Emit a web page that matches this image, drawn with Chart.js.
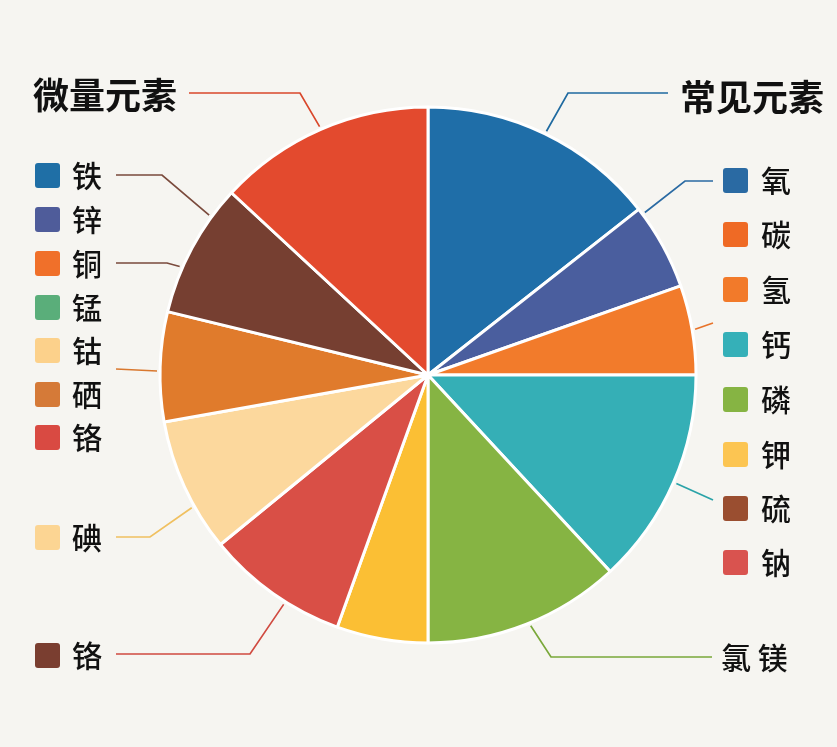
<!DOCTYPE html>
<html>
<head>
<meta charset="utf-8">
<script src="https://cdn.jsdelivr.net/npm/chart.js@4.4.1/dist/chart.umd.min.js"></script>
<style>
  html, body { margin: 0; padding: 0; background: #f6f5f1; }
  #wrap { position: relative; width: 837px; height: 747px; overflow: hidden; background: #f6f5f1; }
  canvas { position: absolute; left: 0; top: 0; }
  .t { position: absolute; font-family: "Noto Sans CJK SC", "Noto Sans", sans-serif; color: #111; white-space: nowrap; }
  .title { font-size: 36px; font-weight: 700; height: 44px; line-height: 44px; }
  .item { font-size: 30px; font-weight: 500; height: 36px; line-height: 36px; }
  .sw { position: absolute; width: 25px; height: 25px; border-radius: 3px; }
</style>
</head>
<body>
<div id="wrap">
  <canvas id="c" width="837" height="747"></canvas>
</div>
<script>
// ---- data ----
const sliceLabels = ["氧", "碳", "氢", "钙", "磷 镁", "钾", "钠", "碘", "硒", "铁", "其他微量"];
const sliceValues = [14.4, 5.2, 5.4, 13.1, 11.9, 5.5, 8.6, 8.1, 6.6, 8.1, 13.1];
const sliceColors = ["#1f6ea8", "#4a5e9e", "#f27b2b", "#35afb6", "#86b443", "#fbbf34", "#d94f46", "#fcd89d", "#e07b2c", "#763f31", "#e34a2e"];

const leftTitle = "微量元素";
const rightTitle = "常见元素";
const leftLegendLabels = ["铁", "锌", "铜", "锰", "钴", "硒", "铬", "碘", "铬"];
const leftLegendColors = ["#1f6fa6", "#4f5c9a", "#f0702a", "#5aae7a", "#fcd18b", "#d57a38", "#d94a42", "#fcd593", "#7a3e30"];
const rightLegendLabels = ["氧", "碳", "氢", "钙", "磷", "钾", "硫", "钠"];
const rightLegendColors = ["#2a6aa3", "#ef6a25", "#f27a2a", "#35b0b8", "#86b443", "#fcc552", "#9a4e30", "#d9534f"];
const bottomRightLabel = "氯 镁";

// ---- layout ----
const wrap = document.getElementById('wrap');
function addText(txt, cls, left, cy, h) {
  const d = document.createElement('div');
  d.className = 't ' + cls;
  d.textContent = txt;
  d.style.left = left + 'px';
  d.style.top = (cy - h / 2) + 'px';
  wrap.appendChild(d);
}
function addSwatch(color, left, cy) {
  const s = document.createElement('div');
  s.className = 'sw';
  s.style.background = color;
  s.style.left = left + 'px';
  s.style.top = (cy - 12.5) + 'px';
  wrap.appendChild(s);
}
addText(leftTitle, 'title', 33, 93, 44);
addText(rightTitle, 'title', 680, 95, 44);
const leftYs = [175, 219, 263, 307, 350, 394, 437, 537, 655];
leftLegendLabels.forEach((l, i) => { addSwatch(leftLegendColors[i], 35, leftYs[i]); addText(l, 'item', 72, leftYs[i] - 1, 36); });
const rightYs = [180, 234, 289, 344, 399, 454, 508, 562];
rightLegendLabels.forEach((l, i) => { addSwatch(rightLegendColors[i], 723, rightYs[i]); addText(l, 'item', 761, rightYs[i] - 1, 36); });
addText(bottomRightLabel, 'item', 721, 656, 36);

// leader lines: slice index, fraction within slice, polyline from text side to elbow
const leaders = [
  { slice: 10, frac: 0.5,  color: "#d9472b", pts: [[189, 93], [300, 93]] },
  { slice: 9,  frac: 0.77, color: "#7a4a3c", pts: [[116, 175], [162, 175]] },
  { slice: 9,  frac: 0.34, color: "#7a4a3c", pts: [[116, 263], [167, 263]] },
  { slice: 8,  frac: 0.46, color: "#d9782f", pts: [[116, 369]] },
  { slice: 7,  frac: 0.34, color: "#f0c060", pts: [[116, 537], [150, 537]] },
  { slice: 6,  frac: 0.4,  color: "#d04a40", pts: [[116, 654], [250, 654]] },
  { slice: 0,  frac: 0.5,  color: "#1f6aa0", pts: [[668, 93], [568, 93]] },
  { slice: 1,  frac: 0.07, color: "#2a6aa3", pts: [[713, 181], [685, 181]] },
  { slice: 2,  frac: 0.5,  color: "#e8732a", pts: [[713, 323]] },
  { slice: 3,  frac: 0.5,  color: "#2aa3a8", pts: [[713, 500]] },
  { slice: 4,  frac: 0.48, color: "#7aa83a", pts: [[712, 657], [551, 657]] }
];

const leaderPlugin = {
  id: 'leaders',
  afterDatasetsDraw(chart) {
    const ctx = chart.ctx;
    const arcs = chart.getDatasetMeta(0).data;
    ctx.save();
    ctx.lineWidth = 1.7;
    leaders.forEach(L => {
      const a = arcs[L.slice];
      const ang = a.startAngle + (a.endAngle - a.startAngle) * L.frac;
      const r = a.outerRadius + 3;
      const ex = a.x + Math.cos(ang) * r;
      const ey = a.y + Math.sin(ang) * r;
      ctx.strokeStyle = L.color;
      ctx.beginPath();
      ctx.moveTo(L.pts[0][0], L.pts[0][1]);
      for (let i = 1; i < L.pts.length; i++) ctx.lineTo(L.pts[i][0], L.pts[i][1]);
      ctx.lineTo(ex, ey);
      ctx.stroke();
    });
    ctx.restore();
  }
};

new Chart(document.getElementById('c'), {
  type: 'pie',
  data: {
    labels: sliceLabels,
    datasets: [{
      data: sliceValues,
      backgroundColor: sliceColors,
      borderColor: '#ffffff',
      borderWidth: 3
    }]
  },
  options: {
    responsive: false,
    animation: false,
    radius: 268,
    layout: { padding: { left: 161, right: 142, top: 108, bottom: 105 } },
    plugins: { legend: { display: false }, tooltip: { enabled: false } }
  },
  plugins: [leaderPlugin]
});
</script>
</body>
</html>
